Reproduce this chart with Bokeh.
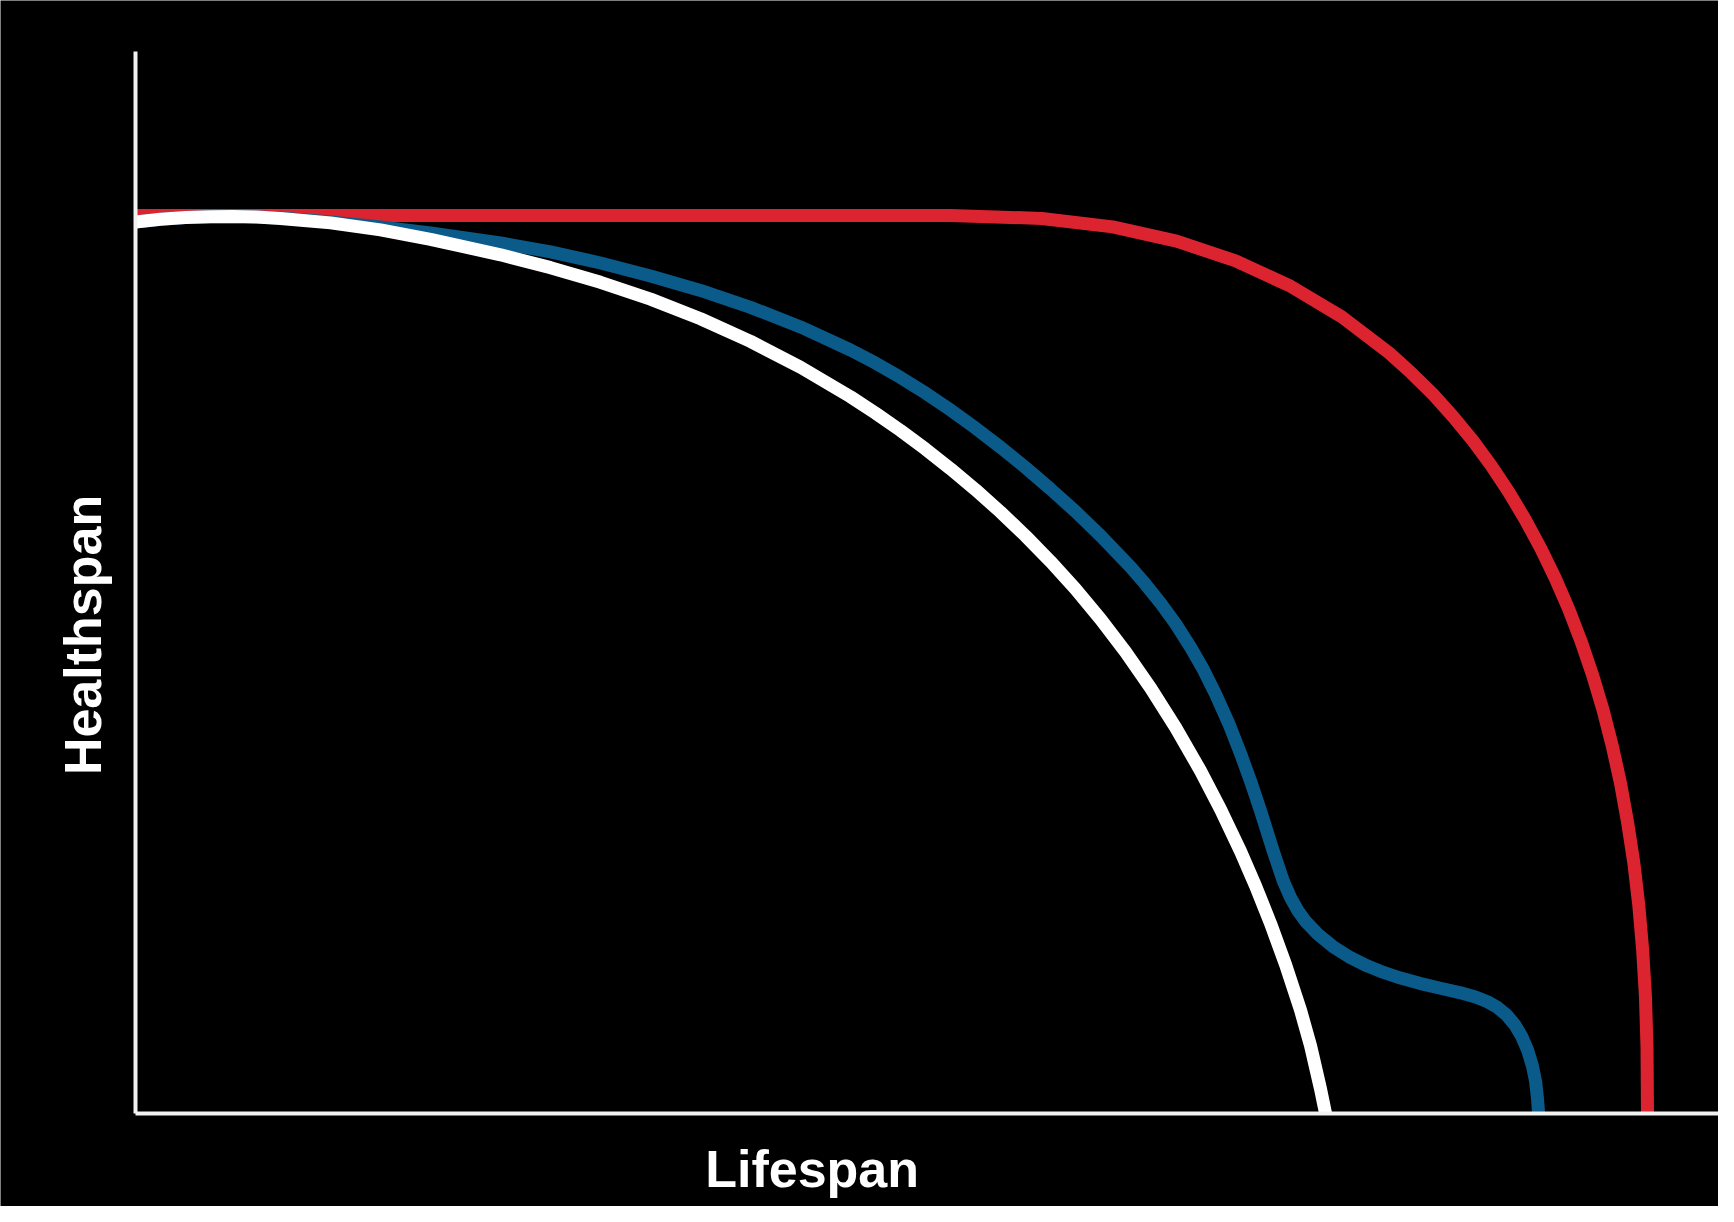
from bokeh.plotting import figure
from bokeh.models import Range1d, Label, FixedTicker
from bokeh.embed import file_html
from bokeh.resources import INLINE
import math

# ---- data (Lifespan on x, Healthspan on y; arbitrary 0-100 units) ----
red_x = [0, 16.6, 35.5, 51.19, 56.92, 61.38, 65.39, 69.10, 72.55, 75.77, 78.74, 80.14, 81.49, 82.77,
         84.00, 85.16, 86.26, 87.29, 88.27, 89.18, 90.03, 90.81, 91.53, 92.18, 92.76, 93.28, 93.72,
         94.11, 94.42, 94.66, 94.84, 94.94, 94.97]
red_y = [84.64, 84.64, 84.64, 84.64, 84.36, 83.56, 82.22, 80.36, 77.97, 75.08, 71.68, 69.79, 67.79, 65.66,
         63.41, 61.05, 58.56, 55.97, 53.25, 50.43, 47.50, 44.45, 41.28, 38.01, 34.62, 31.09, 27.44,
         23.64, 19.68, 15.51, 11.07, 6.22, 0]

blue_x = [0, 1.57, 3.14, 4.71, 6.09, 7.60, 9.11, 12.25, 15.39, 18.53,
          22.93, 26.07, 29.21, 32.35, 35.49, 38.63, 41.77, 44.91, 46.48, 48.05,
          49.62, 51.19, 52.76, 54.33, 55.90, 57.47, 59.05, 60.62, 62.50, 63.44,
          64.38, 65.33, 66.27, 67.09, 67.84, 68.66, 69.41, 70.04, 70.67, 71.48,
          72.11, 72.55, 72.99, 73.49, 74.25, 75.25, 76.32, 77.39, 78.39, 79.46,
          80.72, 81.97, 83.23, 84.17, 84.92, 85.55, 86.12, 86.62, 87.06, 87.44,
          87.75, 87.94, 88.06, 88.13]
blue_y = [84.02, 84.28, 84.44, 84.52, 84.54, 84.50, 84.39, 84.02, 83.55, 82.99,
          82.05, 81.20, 80.16, 78.94, 77.57, 75.98, 74.13, 71.96, 70.73, 69.37,
          67.90, 66.31, 64.60, 62.79, 60.88, 58.86, 56.72, 54.45, 51.50, 49.87,
          48.11, 46.16, 43.94, 41.79, 39.52, 36.78, 33.92, 31.32, 28.50, 24.64,
          21.84, 20.35, 19.16, 18.11, 16.91, 15.68, 14.68, 13.89, 13.29, 12.76,
          12.24, 11.80, 11.37, 10.97, 10.53, 9.99, 9.28, 8.39, 7.29, 5.97,
          4.43, 3.04, 1.44, 0]

white_x = [0, 1.57, 3.14, 4.71, 6.09, 7.60, 9.11, 12.25, 15.39, 18.53,
           22.93, 26.07, 29.21, 32.35, 35.49, 38.63, 41.77, 44.91, 46.48, 48.05,
           49.62, 51.19, 52.76, 54.33, 55.90, 57.47, 59.05, 60.62, 62.19, 63.76,
           65.33, 66.90, 68.15, 69.41, 70.35, 71.29, 72.24, 73.18, 73.81, 74.43,
           74.75]
white_y = [84.02, 84.28, 84.44, 84.52, 84.54, 84.49, 84.36, 83.94, 83.28, 82.39,
           80.93, 79.72, 78.34, 76.75, 74.90, 72.77, 70.33, 67.55, 66.01, 64.37,
           62.62, 60.76, 58.79, 56.69, 54.44, 52.03, 49.42, 46.58, 43.49, 40.10,
           36.38, 32.28, 28.67, 24.70, 21.45, 17.92, 14.02, 9.72, 6.36, 2.33,
           0]

x_label = "Lifespan"
y_label = "Healthspan"

# ---- layout constants ----
W, H = 1718, 1206
X_RANGE = (-8.48, 99.43)
Y_RANGE = (-8.77, 104.90)

p = figure(width=W, height=H, output_backend="svg", toolbar_location=None,
           x_range=Range1d(*X_RANGE), y_range=Range1d(*Y_RANGE),
           background_fill_color="black", border_fill_color="black", min_border=0)
p.outline_line_color = None
p.grid.visible = False

for ax in (p.xaxis[0], p.yaxis[0]):
    ax.fixed_location = 0
    ax.bounds = (0, 100.1)
    ax.ticker = FixedTicker(ticks=[])
    ax.axis_line_color = "#f2f2f2"
    ax.axis_line_width = 4
    ax.major_tick_line_color = None
    ax.minor_tick_line_color = None
    ax.major_label_text_font_size = "0px"

LW = 13
common = dict(line_width=LW, line_join="round")
p.line(red_x, red_y, line_color="#dc2330", **common)
p.line(blue_x, blue_y, line_color="#0a5a8a", **common)
p.line(white_x, white_y, line_color="#ffffff", **common)

p.add_layout(Label(x=42.5, y=-5.19, text=x_label, text_align="center", text_baseline="alphabetic",
                   text_font="Liberation Sans", text_font_style="bold", text_font_size="52px",
                   text_color="white"))
p.add_layout(Label(x=-3.32, y=45.1, text=y_label, angle=math.pi / 2, text_align="center",
                   text_baseline="alphabetic", text_font="Liberation Sans", text_font_style="bold",
                   text_font_size="52px", text_color="white"))

open("out.html", "w").write(file_html(p, INLINE))
